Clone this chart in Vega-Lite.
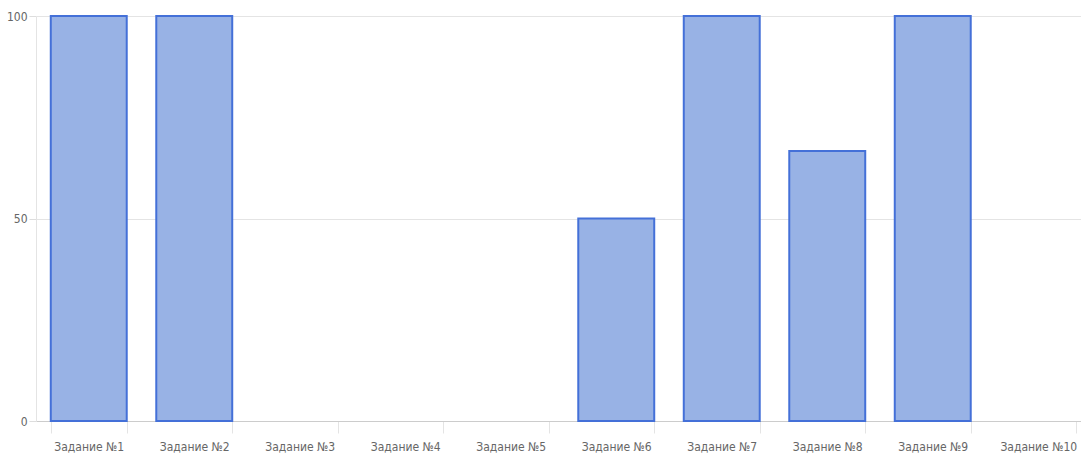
{
  "$schema": "https://vega.github.io/schema/vega-lite/v6.json",
  "autosize": {"type": "none"},
  "width": 1055,
  "height": 405,
  "padding": {"left": 36, "top": 16, "right": 0, "bottom": 40},
  "background": "white",
  "data": {"values": [
    {"task": "Задание №1", "value": 100},
    {"task": "Задание №2", "value": 100},
    {"task": "Задание №3", "value": 0},
    {"task": "Задание №4", "value": 0},
    {"task": "Задание №5", "value": 0},
    {"task": "Задание №6", "value": 50},
    {"task": "Задание №7", "value": 100},
    {"task": "Задание №8", "value": 66.67},
    {"task": "Задание №9", "value": 100},
    {"task": "Задание №10", "value": 0}
  ]},
  "config": {
    "view": {"stroke": null},
    "font": "DejaVu Sans Condensed, Roboto, sans-serif"
  },
  "mark": {"type": "bar", "fill": "#98b2e5", "stroke": "#4470d8", "strokeWidth": 2},
  "encoding": {
    "x": {
      "field": "task", "type": "nominal", "sort": null,
      "scale": {"paddingInner": 0.28, "paddingOuter": 0.14},
      "axis": {
        "title": null, "labelAngle": 0, "labelFontSize": 12, "labelColor": "#666666",
        "labelPadding": 8, "tickBand": "extent", "tickSize": 12, "tickColor": "#e4e4e4",
        "domainColor": "#cccccc", "grid": false
      }
    },
    "y": {
      "field": "value", "type": "quantitative",
      "scale": {"domain": [0, 100], "nice": false},
      "axis": {
        "title": null, "values": [0, 50, 100], "labelFontSize": 12, "labelColor": "#666666",
        "tickSize": 7, "tickColor": "#dddddd", "domainColor": "#e4e4e4",
        "gridColor": "#e4e4e4", "labelPadding": 2
      }
    },
    "strokeOpacity": {"condition": {"test": "datum.value > 0", "value": 1}, "value": 0}
  }
}
